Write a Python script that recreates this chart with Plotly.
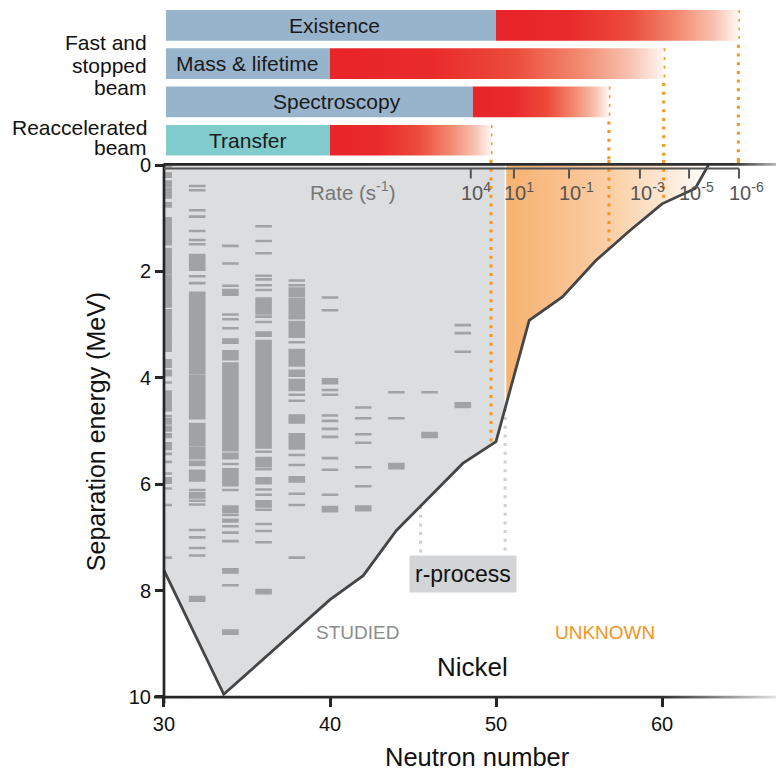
import numpy as np
import plotly.graph_objects as go

# ---------------- data ----------------
# Separation-energy limit of the known nickel isotopes (neutron number, MeV)
boundary_n = [30, 33.6, 40, 42, 44, 46, 48, 50, 52, 54, 56, 58, 60, 62, 62.8]
boundary_e = [7.62, 9.95, 8.17, 7.72, 6.87, 6.24, 5.61, 5.2, 2.92, 2.48, 1.8, 1.25, 0.73, 0.44, 0.0]

studied_end = 50.52
unknown_start = 50.62
rprocess_n = [45.46, 50.55]

# Experimental reach bars (neutron number)
bar_labels = ["Existence", "Mass & lifetime", "Spectroscopy", "Transfer"]
bar_start = 30.12
bar_known = [50.0, 40.0, 48.6, 40.0]
bar_reach = [64.6, 60.1, 56.8, 49.7]

# Beam-rate scale along the top axis
rate_n = [48.48, 51.08, 54.4, 58.67, 61.63, 64.64]
rate_exp = ["4", "1", "-1", "-3", "-5", "-6"]

# Known excited levels per isotope column (MeV): single levels and dense bands
levels_30 = [0.03, 0.61, 1.49, 4.09, 4.72, 5.43, 5.58, 5.80, 6.08, 6.39, 7.38]
bands_30 = [(0.16, 0.22), (0.31, 0.39), (0.44, 0.50), (0.53, 0.58), (0.72, 0.78), (1.00, 1.07),
            (1.10, 1.16), (1.19, 1.38), (1.41, 1.44), (1.58, 1.68), (1.72, 2.04), (2.09, 2.17),
            (2.22, 2.54), (2.57, 2.66), (2.73, 2.85), (2.90, 2.98), (3.02, 3.23), (3.26, 3.32),
            (3.35, 3.49), (3.67, 3.79), (3.87, 3.95), (4.26, 4.35), (4.39, 4.61), (4.78, 4.86),
            (4.92, 4.99), (5.06, 5.11), (5.23, 5.34), (5.89, 5.97)]
levels_32 = [0.395, 0.476, 0.852, 0.97, 1.24, 1.41, 1.49, 2.09, 2.22, 6.11, 6.31, 6.38,
             6.86, 7.0, 7.2, 7.34]
bands_32 = [(1.69, 1.85), (1.89, 1.97), (2.40, 3.92), (3.97, 4.15), (4.18, 4.76), (4.87, 5.26),
            (5.31, 5.51), (5.58, 5.64), (5.75, 5.93), (6.17, 6.25), (8.12, 8.19)]
levels_34 = [1.52, 1.85, 2.27, 2.81, 2.90, 3.07, 3.73, 5.62, 6.11, 6.58, 6.79, 6.91, 7.07, 7.90]
bands_34 = [(2.35, 2.44), (3.28, 3.34), (3.50, 3.65), (3.78, 4.29), (4.34, 5.03), (5.07, 5.36),
            (5.43, 5.51), (5.72, 5.85), (5.89, 6.02), (6.42, 6.52), (6.67, 6.70), (7.60, 7.66),
            (8.75, 8.81)]
levels_36 = [1.15, 1.43, 1.66, 2.08, 2.15, 2.26, 2.35, 2.85, 2.95, 5.39, 5.72, 6.10, 6.20,
             6.48, 6.75, 6.88, 7.09]
bands_36 = [(2.51, 2.59), (2.62, 2.79), (3.15, 3.21), (3.31, 3.43), (3.46, 3.66), (3.68, 4.53),
            (4.56, 5.31), (5.51, 5.66), (5.89, 5.98), (6.32, 6.42), (7.99, 8.05)]
levels_38 = [2.17, 2.26, 2.46, 3.33, 4.32, 4.43, 5.45, 5.64, 6.18, 6.39, 7.38]
bands_38 = [(2.32, 2.42), (2.52, 2.61), (2.63, 2.88), (2.95, 3.15), (3.18, 3.23), (3.48, 3.77),
            (3.87, 3.96), (4.04, 4.23), (4.71, 4.84), (5.06, 5.14), (5.19, 5.33), (5.87, 5.95)]
levels_40 = [2.49, 2.73, 4.23, 4.32, 4.71, 4.81, 4.96, 5.11, 5.51, 5.73, 6.20]
bands_40 = [(4.03, 4.10), (6.43, 6.51)]
levels_42 = [4.56, 4.76, 5.06, 5.22, 5.68, 6.04]
bands_42 = [(6.42, 6.49)]
levels_44 = [4.27, 4.76]
bands_44 = [(5.62, 5.70)]
levels_46 = [4.27]
bands_46 = [(5.04, 5.11)]
levels_48 = [3.01, 3.16, 3.51]
bands_48 = [(4.48, 4.55)]

columns = [30, 32, 34, 36, 38, 40, 42, 44, 46, 48]
column_levels = [levels_30, levels_32, levels_34, levels_36, levels_38,
                 levels_40, levels_42, levels_44, levels_46, levels_48]
column_bands = [bands_30, bands_32, bands_34, bands_36, bands_38,
                bands_40, bands_42, bands_44, bands_46, bands_48]

# ---------------- styling ----------------
FONT = "Liberation Sans, Arial, Helvetica, sans-serif"
GREY_FILL = "#dcdddf"
LEVEL_GREY = "#a1a2a4"
EDGE = "#454545"
AXIS = "#262626"
ORANGE = "#f7941d"
BLUE = "#98b3cc"
TEAL = "#80cbcc"
RED_SCALE = [[0, "#e8252a"], [0.3, "#e92a2b"], [0.55, "#ec4b3b"], [0.75, "#f28a70"],
             [0.9, "#f8c2b0"], [1, "#fff6f2"]]
ORANGE_SCALE = [[0, "#f7b26f"], [0.3, "#f9c190"], [0.55, "#fbd2ab"], [0.78, "#fde7d4"],
                [1, "#ffffff"]]

X_MIN, X_MAX = 29.157, 66.867
Y_MAIN = [10.282, -0.094]
ROWS = 3.916
MAIN_TOP = 0.78632

fig = go.Figure()


def boundary_at(n):
    return float(np.interp(n, boundary_n, boundary_e))


def rect_path(x0, x1, spans, half=0.0):
    xs, ys = [], []
    for lo, hi in spans:
        xs += [x0, x1, x1, x0, x0, None]
        ys += [lo - half, lo - half, hi + half, hi + half, lo - half, None]
    return xs, ys


# studied (grey) region
e_left = boundary_at(studied_end)
gx = [30, studied_end, studied_end]
gy = [0, 0, e_left]
for n, e in zip(reversed(boundary_n), reversed(boundary_e)):
    if n < studied_end:
        gx.append(n)
        gy.append(e)
gx.append(30)
gy.append(0)
fig.add_trace(go.Scatter(x=gx, y=gy, fill="toself", fillcolor=GREY_FILL, mode="lines",
                         line=dict(width=0), hoverinfo="skip"))

# unknown (orange gradient) region
e_right = boundary_at(unknown_start)
ox = [unknown_start, boundary_n[-1]]
oy = [0, boundary_e[-1]]
for n, e in zip(reversed(boundary_n[:-1]), reversed(boundary_e[:-1])):
    if n > unknown_start:
        ox.append(n)
        oy.append(e)
ox += [unknown_start, unknown_start]
oy += [e_right, 0]
fig.add_trace(go.Scatter(x=ox, y=oy, fill="toself", mode="lines", line=dict(width=0),
                         fillgradient=dict(type="horizontal", colorscale=ORANGE_SCALE),
                         hoverinfo="skip"))

# level scheme columns
lx, ly = [], []
for n, singles, bands in zip(columns, column_levels, column_bands):
    x0, x1 = (30.06, 30.48) if n == 30 else (n - 0.5, n + 0.5)
    spans = [(e, e) for e in singles] + list(bands)
    xs, ys = rect_path(x0, x1, spans, half=0.024)
    lx += xs
    ly += ys
fig.add_trace(go.Scatter(x=lx, y=ly, fill="toself", fillcolor=LEVEL_GREY, mode="lines",
                         line=dict(width=0), hoverinfo="skip"))

# r-process guide lines
BOX_TOP = 7.34
for n in rprocess_n:
    fig.add_trace(go.Scatter(x=[n, n], y=[boundary_at(n), BOX_TOP], mode="lines",
                             line=dict(color="#cfcfcf", width=3, dash="3px,5.7px"),
                             hoverinfo="skip"))

# reach limits of the experiments (dotted orange)
for i, n in enumerate(bar_reach):
    fig.add_trace(go.Scatter(x=[n, n], y=[i, ROWS], yaxis="y2", mode="lines",
                             line=dict(color=ORANGE, width=3, dash="3px,5.7px"),
                             hoverinfo="skip"))
    fig.add_trace(go.Scatter(x=[n, n], y=[Y_MAIN[1], boundary_at(n)], mode="lines",
                             line=dict(color=ORANGE, width=3, dash="3px,5.7px"),
                             hoverinfo="skip"))

# separation-energy limit line
fig.add_trace(go.Scatter(x=boundary_n, y=boundary_e, mode="lines",
                         line=dict(color=EDGE, width=2.8), hoverinfo="skip"))

# frame: left axis line, top line, bottom line (fading at right)
fig.add_trace(go.Scatter(x=[30, 30], y=[-0.03, 10.12], mode="lines",
                         line=dict(color=AXIS, width=2.7), hoverinfo="skip"))
fig.add_trace(go.Scatter(x=[30, X_MAX, X_MAX, 30, 30], y=[-0.036, -0.036, 0.016, 0.016, -0.036],
                         fill="toself", mode="lines", line=dict(width=0),
                         fillgradient=dict(type="horizontal",
                                           colorscale=[[0, AXIS], [0.93, "#303030"], [1, "#b4b4b4"]]),
                         hoverinfo="skip"))
fig.add_trace(go.Scatter(x=[29.4, X_MAX, X_MAX, 29.4, 29.4], y=[9.975, 9.975, 10.027, 10.027, 9.975],
                         fill="toself", mode="lines", line=dict(width=0),
                         fillgradient=dict(type="horizontal",
                                           colorscale=[[0, AXIS], [0.82, "#333333"], [1, "#e2e2e2"]]),
                         hoverinfo="skip"))

# rate axis with ticks
fig.add_trace(go.Scatter(x=[30, rate_n[-1]], y=[0.068, 0.068], mode="lines",
                         line=dict(color="#555555", width=2), hoverinfo="skip"))
tx, ty = [], []
for n in rate_n:
    tx += [n, n, None]
    ty += [0.068, 0.255, None]
fig.add_trace(go.Scatter(x=tx, y=ty, mode="lines", line=dict(color="#555555", width=2),
                         hoverinfo="skip"))

# experiment bars
for i, label in enumerate(bar_labels):
    y0, y1 = i, i + 0.8
    fig.add_trace(go.Scatter(x=[bar_start, bar_known[i], bar_known[i], bar_start, bar_start],
                             y=[y0, y0, y1, y1, y0], yaxis="y2", fill="toself",
                             fillcolor=TEAL if label == "Transfer" else BLUE,
                             mode="lines", line=dict(width=0), hoverinfo="skip"))
    fig.add_trace(go.Scatter(x=[bar_known[i], bar_reach[i], bar_reach[i], bar_known[i], bar_known[i]],
                             y=[y0, y0, y1, y1, y0], yaxis="y2", fill="toself", mode="lines",
                             line=dict(width=0),
                             fillgradient=dict(type="horizontal", colorscale=RED_SCALE),
                             hoverinfo="skip"))

annotations = []
label_x = [40.3, 35.0, 40.4, 35.0]
for i, label in enumerate(bar_labels):
    annotations.append(dict(x=label_x[i], y=i + 0.4, xref="x", yref="y2", text=label,
                            showarrow=False, font=dict(family=FONT, size=21, color="#1a1a1a")))

# beam type labels at the left of the bars
for text, row in [("Fast and", 0.85), ("stopped", 1.45), ("beam", 2.03),
                  ("Reaccelerated", 3.07), ("beam", 3.58)]:
    annotations.append(dict(x=0, y=row, xref="paper", yref="y2", text=text, xanchor="right",
                            yanchor="middle", xshift=-1, showarrow=False,
                            font=dict(family=FONT, size=21, color="#111111")))

# rate tick labels
for n, ex in zip(rate_n, rate_exp):
    annotations.append(dict(x=n, y=0.49, xref="x", yref="y", text=f"10<sup>{ex}</sup>",
                            xanchor="left", xshift=-12, showarrow=False,
                            font=dict(family=FONT, size=20, color="#555555")))
annotations.append(dict(x=41.36, y=0.48, xref="x", yref="y", text="Rate (s<sup>-1</sup>)",
                        showarrow=False, font=dict(family=FONT, size=20.5, color="#777777")))

annotations += [
    dict(x=41.66, y=8.78, xref="x", yref="y", text="STUDIED", showarrow=False,
         font=dict(family=FONT, size=19, color="#8c8c8c")),
    dict(x=56.54, y=8.78, xref="x", yref="y", text="UNKNOWN", showarrow=False,
         font=dict(family=FONT, size=19, color=ORANGE)),
    dict(x=48.58, y=9.43, xref="x", yref="y", text="Nickel", showarrow=False,
         font=dict(family=FONT, size=26, color="#111111")),
    dict(x=48.04, y=7.68, xref="x", yref="y", text="r-process", showarrow=False,
         bgcolor="#d3d4d6", borderpad=5,
         font=dict(family=FONT, size=23, color="#111111")),
    dict(x=0.5224, y=-0.064, xref="paper", yref="paper", text="Neutron number",
         xanchor="center", yanchor="middle",
         showarrow=False, font=dict(family=FONT, size=25.5, color="#111111")),
    dict(x=-0.0863, y=0.4, xref="paper", yref="paper", text="Separation energy (MeV)",
         xanchor="center", yanchor="middle",
         textangle=-90, showarrow=False, font=dict(family=FONT, size=25, color="#111111")),
]

fig.update_layout(
    width=776, height=771, autosize=False,
    margin=dict(l=150, r=0, t=10, b=59),
    paper_bgcolor="white", plot_bgcolor="white",
    showlegend=False, hovermode=False,
    annotations=annotations,
    xaxis=dict(range=[X_MIN, X_MAX], anchor="free", position=(712 - 697) / 702,
               tickvals=[30, 40, 50, 60], ticks="outside", ticklen=9, tickwidth=2.6,
               tickcolor=AXIS, showgrid=False, zeroline=False, showline=False,
               tickfont=dict(family=FONT, size=20, color="#111111")),
    yaxis=dict(range=Y_MAIN, domain=[0, MAIN_TOP], anchor="free", position=14 / 626,
               tickvals=[0, 2, 4, 6, 8, 10], ticks="outside", ticklen=9, tickwidth=2.6,
               tickcolor=AXIS, showgrid=False, zeroline=False, showline=False,
               tickfont=dict(family=FONT, size=20, color="#111111")),
    yaxis2=dict(range=[ROWS, 0], domain=[MAIN_TOP, 1], anchor="x", visible=False),
)

fig.write_html("out.html")
